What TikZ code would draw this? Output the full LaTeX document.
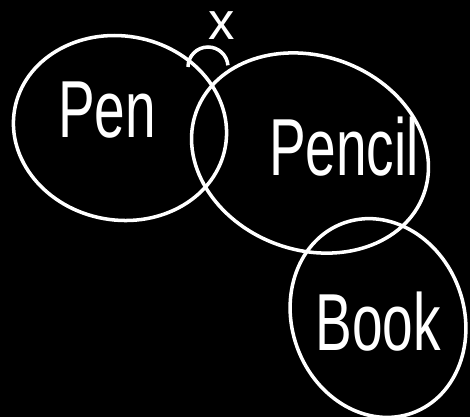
\documentclass[tikz,border=0pt]{standalone}
\usepackage{fontspec}
\setmainfont{Liberation Sans}
\usepackage{tikz}
\usetikzlibrary{positioning}
\definecolor{SketchBg}{HTML}{000000}
\definecolor{SketchInk}{HTML}{FFFFFF}
\tikzset{
  ring/.style={draw=SketchInk,line width=1pt},
  word/.style={text=SketchInk,font=\fontsize{23}{27}\selectfont,xscale=0.68,transform shape,inner sep=0pt},
  crossmark/.style={text=SketchInk,font=\fontsize{15}{17}\selectfont,inner sep=0pt},
}
\begin{document}
\begin{tikzpicture}[x=0.01cm,y=0.01cm]
  % ── Canvas ──
  \fill[SketchBg] (0,0) rectangle (470,-417);
  \useasboundingbox (0,0) rectangle (470,-417);

  % ── Sets ──
  \draw[ring,rotate around={-10:(120,-128)}] (120,-128) ellipse [x radius=107,y radius=92];
  \draw[ring,rotate around={-20:(310,-153)}] (310,-153) ellipse [x radius=121,y radius=97];
  \draw[ring,rotate around={20:(378,-318)}] (378,-318) ellipse [x radius=86,y radius=101];

  % ── Labels ──
  \node[word] (pen) at (107,-110) {Pen};
  \node[word] (pencil) at (344,-147) {Pencil};
  \node[word] (book) at (378,-322) {Book};

  % ── Intersection mark ──
  \coordinate (arcl) at (188,-67);
  \draw[ring] (arcl) arc[start angle=180,end angle=5,radius=20] coordinate (arcr);
  \node[crossmark] (cross) at (222,-26) {x};
\end{tikzpicture}
\end{document}
